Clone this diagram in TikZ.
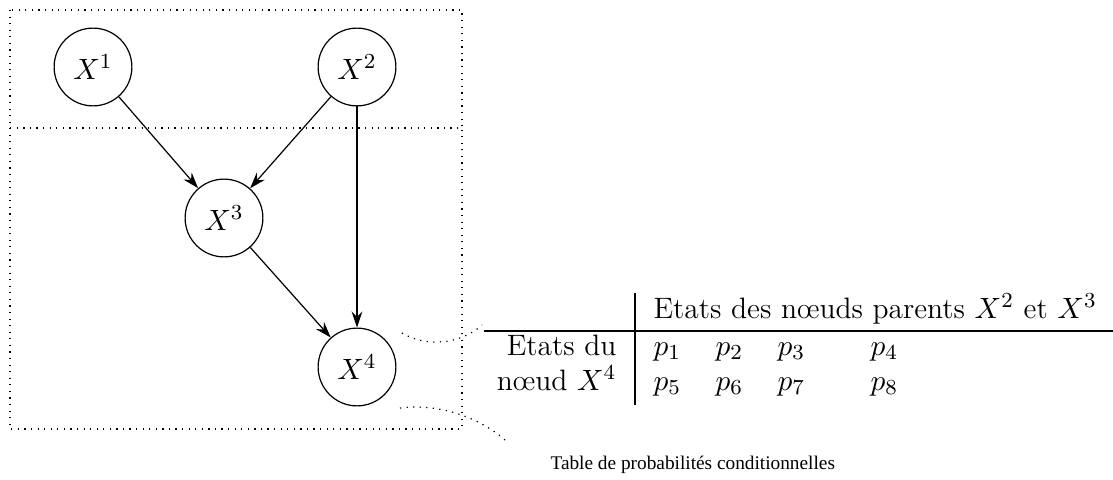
\documentclass[tikz,border=0pt]{standalone}
\usepackage{fontspec}
\newfontfamily\capfont{Liberation Serif}
\usetikzlibrary{arrows.meta}
\begin{document}
\begin{tikzpicture}[x=0.3729pt,y=-0.3729pt,
  vnode/.style={circle,draw,line width=0.45pt,minimum size=29pt,inner sep=0pt,font=\fontsize{11}{13.2}\selectfont},
  edge/.style={line width=0.45pt,-{Stealth[length=6pt,width=4pt,inset=2pt]}},
  zone/.style={dotted,line width=0.45pt},
  txt/.style={inner sep=0pt,font=\fontsize{11}{13.2}\selectfont},
  tcell/.style={txt,anchor=base west}]
\useasboundingbox (0,0) rectangle (1113,480);
% zones
\draw[zone] (10,10) rectangle (462,128);
\draw[zone] (10,128) rectangle (462,429);
% nodes
\node[vnode] (x1) at (93,67) {$X^1$};
\node[vnode] (x2) at (357,67) {$X^2$};
\node[vnode] (x3) at (224,218) {$X^3$};
\node[vnode] (x4) at (357,367) {$X^4$};
\draw[edge] (x1) -- (x3);
\draw[edge] (x2) -- (x3);
\draw[edge] (x2) -- (x4);
\draw[edge] (x3) -- (x4);
% table
\coordinate (hl) at (484,331);
\coordinate (hr) at (1113,331);
\coordinate (vt) at (635,293);
\coordinate (vb) at (635,405);
\draw[line width=0.8pt] (hl) -- (hr);
\draw[line width=0.45pt] (vt) -- (vb);
\node[tcell] (head) at (653,318) {Etats des n\oe uds parents $X^2$ et $X^3$};
\node[txt,anchor=base east] (r1) at (617,355) {Etats du};
\node[txt,anchor=base east] (r2) at (617,390) {n\oe ud $X^4$};
\node[tcell] (p1) at (653,355) {$p_1$};
\node[tcell] (p2) at (715,355) {$p_2$};
\node[tcell] (p3) at (777,355) {$p_3$};
\node[tcell] (p4) at (870,355) {$p_4$};
\node[tcell] (p5) at (653,390) {$p_5$};
\node[tcell] (p6) at (715,390) {$p_6$};
\node[tcell] (p7) at (777,390) {$p_7$};
\node[tcell] (p8) at (870,390) {$p_8$};
% dotted connectors
\coordinate (c1s) at (402,333);
\coordinate (c1e) at (482,325);
\coordinate (c2s) at (400,408);
\coordinate (c2e) at (505,440);
\draw[zone] (c1s) .. controls (425,347) and (460,345) .. (c1e);
\draw[zone] (c2s) .. controls (440,403) and (480,418) .. (c2e);
\node[inner sep=0pt,anchor=base west,font=\capfont\fontsize{7.2}{9}\selectfont] (cap) at (550,469) {Table de probabilités conditionnelles};
\end{tikzpicture}
\end{document}
